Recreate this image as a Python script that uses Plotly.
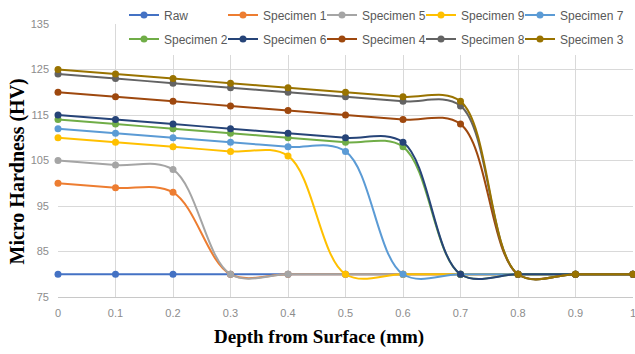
import plotly.graph_objects as go

depth = [0, 0.1, 0.2, 0.3, 0.4, 0.5, 0.6, 0.7, 0.8, 0.9, 1.0]
depth_labels = ["0", "0.1", "0.2", "0.3", "0.4", "0.5", "0.6", "0.7", "0.8", "0.9", "1"]

raw = [80, 80, 80, 80, 80, 80, 80, 80, 80, 80, 80]
spec1 = [100, 99, 98, 80, 80, 80, 80, 80, 80, 80, 80]
spec5 = [105, 104, 103, 80, 80, 80, 80, 80, 80, 80, 80]
spec9 = [110, 109, 108, 107, 106, 80, 80, 80, 80, 80, 80]
spec7 = [112, 111, 110, 109, 108, 107, 80, 80, 80, 80, 80]
spec2 = [114, 113, 112, 111, 110, 109, 108, 80, 80, 80, 80]
spec6 = [115, 114, 113, 112, 111, 110, 109, 80, 80, 80, 80]
spec4 = [120, 119, 118, 117, 116, 115, 114, 113, 80, 80, 80]
spec8 = [124, 123, 122, 121, 120, 119, 118, 117, 80, 80, 80]
spec3 = [125, 124, 123, 122, 121, 120, 119, 118, 80, 80, 80]

series = [
    ("Raw", raw, "#4472C4", "legend"),
    ("Specimen 1", spec1, "#ED7D31", "legend"),
    ("Specimen 5", spec5, "#A5A5A5", "legend"),
    ("Specimen 9", spec9, "#FFC000", "legend"),
    ("Specimen 7", spec7, "#5B9BD5", "legend"),
    ("Specimen 2", spec2, "#70AD47", "legend2"),
    ("Specimen 6", spec6, "#264478", "legend2"),
    ("Specimen 4", spec4, "#9E480E", "legend2"),
    ("Specimen 8", spec8, "#636363", "legend2"),
    ("Specimen 3", spec3, "#997300", "legend2"),
]
last_in_row = {"Specimen 7", "Specimen 3"}

fig = go.Figure()
for name, vals, color, leg in series:
    fig.add_trace(go.Scatter(
        x=depth, y=vals, name=name, mode="lines+markers",
        line=dict(color=color, width=2, shape="spline", smoothing=1),
        marker=dict(color=color, size=7),
        cliponaxis=False, legend=leg,
        legendwidth=70 if name in last_in_row else None,
    ))

W, H = 635, 354
L, R, T, B = 58, 2, 24, 57
pw = W - L - R
ph = H - T - B

def px(sx):
    return (sx - L) / pw

def py(sy):
    return (H - B - sy) / ph

legfont = dict(family="Liberation Sans, Arial, sans-serif", size=12, color="#595959")
common_leg = dict(orientation="h", xanchor="left", yanchor="middle",
                  entrywidth=54, entrywidthmode="pixels",
                  bgcolor="rgba(0,0,0,0)", borderwidth=0, font=legfont,
                  itemclick=False, itemdoubleclick=False)

fig.update_layout(
    width=W, height=H,
    margin=dict(l=L, r=R, t=T, b=B, autoexpand=False),
    plot_bgcolor="white", paper_bgcolor="white",
    showlegend=True,
    hovermode=False,
    legend=dict(x=px(124), y=py(15), **common_leg),
    legend2=dict(x=px(124), y=py(39), **common_leg),
    xaxis=dict(
        range=[0, 1], tickmode="array",
        tickvals=depth, ticktext=depth_labels,
        showgrid=True, gridcolor="#d9d9d9", gridwidth=1,
        showline=True, linecolor="#c8c8c8", linewidth=1,
        zeroline=False, ticks="", ticklabelstandoff=6,
        ticklabeloverflow="allow",
        tickfont=dict(family="Liberation Sans, Arial, sans-serif", size=11, color="#8c8c8c"),
    ),
    yaxis=dict(
        range=[75, 135], tick0=75, dtick=10,
        showgrid=True, gridcolor="#d9d9d9", gridwidth=1,
        showline=False, zeroline=False, ticks="", ticklabelstandoff=8,
        tickfont=dict(family="Liberation Sans, Arial, sans-serif", size=11, color="#8c8c8c"),
    ),
    shapes=[dict(type="rect", xref="paper", yref="paper",
                 x0=px(119), x1=px(650), y0=py(55), y1=py(-5),
                 fillcolor="white", line=dict(width=0), layer="above")],
    annotations=[
        dict(text="<b>Micro Hardness (HV)</b>", xref="paper", yref="paper",
             x=px(16.5), y=py(172), xanchor="center", yanchor="middle",
             textangle=-90, showarrow=False,
             font=dict(family="Liberation Serif, Times New Roman, serif", size=20, color="#000000")),
        dict(text="<b>Depth from Surface (mm)</b>", xref="paper", yref="paper",
             x=px(318.5), y=py(337), xanchor="center", yanchor="middle",
             showarrow=False,
             font=dict(family="Liberation Serif, Times New Roman, serif", size=19, color="#000000")),
    ],
)

fig.write_html(
    "out.html",
    config={"displayModeBar": False},
    post_script="document.body.style.margin='0';document.body.style.overflow='hidden';",
)
